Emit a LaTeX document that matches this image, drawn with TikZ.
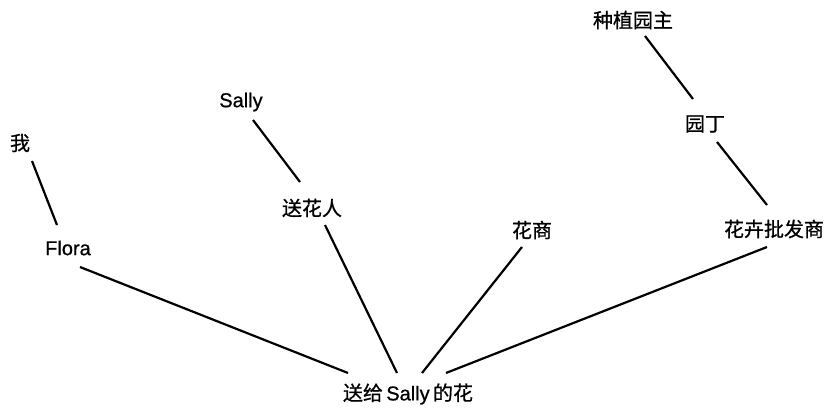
\documentclass[tikz,border=0pt]{standalone}
\usepackage{fontspec}
\setmainfont[FakeBold=0.8]{Liberation Sans}
\newfontfamily\cjk[FakeBold=0.8]{Noto Sans CJK SC}
\begin{document}
\begin{tikzpicture}[x=1pt,y=-1pt,
  lbl/.style={inner sep=0pt, font=\fontsize{20}{24}\selectfont},
  link/.style={line width=2.2pt}]
\useasboundingbox (0,0) rectangle (828,409);
\node[lbl] (wo) at (20,143) {\cjk 我};
\node[lbl] (flora) at (68,248) {Flora};
\node[lbl] (sally) at (241,102) {Sally};
\node[lbl] (shr) at (312,208) {\cjk 送花人};
\node[lbl] (zhongzhi) at (633,20) {\cjk 种植园主};
\node[lbl] (yuanding) at (705,124) {\cjk 园丁};
\node[lbl] (huahui) at (774,229) {\cjk 花卉批发商};
\node[lbl] (huashang) at (532,230) {\cjk 花商};
\node[lbl] (flower) at (408,394) {{\cjk 送给}\,Sally\,{\cjk 的花}};
\draw[link] ([shift={(12,18)}]wo.center) -- ([shift={(-11,-23)}]flora.center);
\draw[link] ([shift={(12,18)}]sally.center) -- ([shift={(-12,-26)}]shr.center);
\draw[link] ([shift={(12,16)}]zhongzhi.center) -- ([shift={(-12,-25)}]yuanding.center);
\draw[link] ([shift={(12,18)}]yuanding.center) -- ([shift={(-7,-24)}]huahui.center);
\draw[link] ([shift={(12,19)}]flora.center) -- ([shift={(-60,-21)}]flower.center);
\draw[link] ([shift={(13,17)}]shr.center) -- ([shift={(-11,-21)}]flower.center);
\draw[link] ([shift={(-10,17)}]huashang.center) -- ([shift={(14,-21)}]flower.center);
\draw[link] ([shift={(-7,18)}]huahui.center) -- ([shift={(38,-21)}]flower.center);
\end{tikzpicture}
\end{document}
